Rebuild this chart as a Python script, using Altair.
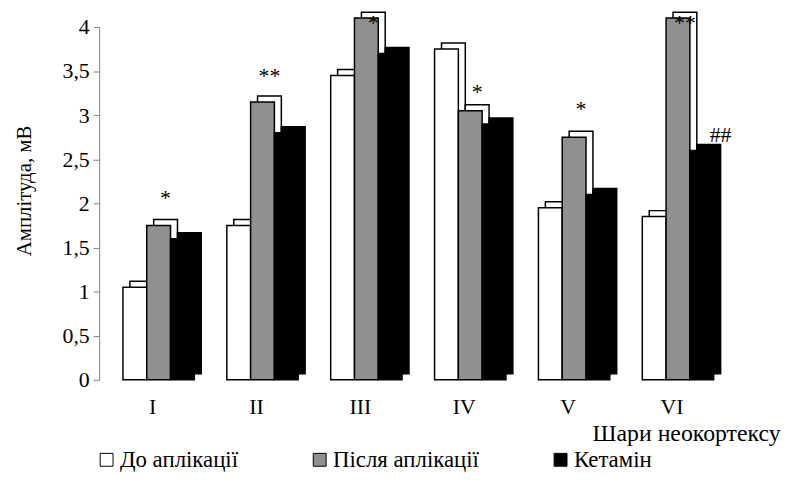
import altair as alt
import pandas as pd

# --- data ---
layers = ["I", "II", "III", "IV", "V", "VI"]
series = ["До аплікації", "Після аплікації", "Кетамін"]
before = [1.05, 1.75, 3.45, 3.75, 1.95, 1.85]
after = [1.75, 3.15, 4.1, 3.05, 2.75, 4.1]
ketamine = [1.6, 2.8, 3.7, 2.9, 2.1, 2.6]

# significance marks (text, layer, series, level in mV where the mark sits)
sig_text = ["*", "**", "*", "*", "*", "**", "##"]
sig_layer = ["I", "II", "III", "IV", "V", "VI", "VI"]
sig_series = ["Після аплікації"] * 6 + ["Кетамін"]
sig_level = [2.11, 3.49, 4.09, 3.31, 3.11, 4.09, 2.82]

rows = []
for s, vals in zip(series, [before, after, ketamine]):
    for l, v in zip(layers, vals):
        rows.append({"layer": l, "series": s, "value": v})
bars = pd.DataFrame(rows)
sig = pd.DataFrame({"layer": sig_layer, "series": sig_series,
                    "level": sig_level, "text": sig_text})

FONT = "Liberation Serif"

x_enc = alt.X(
    "layer:N",
    scale=alt.Scale(domain=layers, paddingInner=0.313, paddingOuter=0.21, align=0.545),
    axis=alt.Axis(
        title="Шари неокортексу", domain=False, ticks=False, labelAngle=0,
        labelOffset=-6, labelPadding=17, labelFont=FONT, labelFontSize=22,
        labelColor="black", titleFont=FONT, titleFontSize=24, titleFontWeight="normal",
        titleColor="black", titleX=687, titleY=61, titleAlign="right",
        titleBaseline="alphabetic", titleAnchor="end",
    ),
)
xo_front = alt.XOffset("series:N", scale=alt.Scale(domain=series, paddingInner=0, paddingOuter=0))
# depth copy: same bars, shifted right by the 3D depth
xo_back = alt.XOffset("series:N", scale=alt.Scale(domain=series, range=[7, 79], paddingInner=0, paddingOuter=0))

y_axis = alt.Axis(
    values=[0, 0.5, 1, 1.5, 2, 2.5, 3, 3.5, 4],
    labelExpr="replace(format(datum.value, '~g'), '.', ',')",
    grid=False, domainColor="#808080", tickColor="#808080", tickSize=6,
    labelFont=FONT, labelFontSize=22, labelColor="black", labelPadding=4,
    title="Амплітуда, мВ", titleFont=FONT, titleFontSize=21, titleFontWeight="normal",
    titleColor="black", titleX=-75, titleY=165, titleAngle=-90,
    titleAlign="center", titleBaseline="middle",
)
y_scale = alt.Scale(domain=[0, 4], nice=False)

back = alt.Chart(bars).mark_bar(
    yOffset=-6, y2Offset=-6, stroke="black", strokeWidth=1.5
).encode(
    x=x_enc, xOffset=xo_back,
    y=alt.Y("value:Q", scale=y_scale, axis=y_axis),
    fill=alt.condition(alt.datum.series == "Кетамін", alt.value("black"), alt.value("white")),
)

front = alt.Chart(bars).mark_bar(stroke="black", strokeWidth=1.5).encode(
    x=x_enc, xOffset=xo_front,
    y=alt.Y("value:Q", scale=y_scale, axis=y_axis),
    color=alt.Color(
        "series:N",
        scale=alt.Scale(domain=series, range=["white", "#909090", "black"]),
        legend=alt.Legend(
            title=None, orient="none", legendX=-4, legendY=425, direction="horizontal",
            symbolType="square", symbolSize=169, symbolStrokeColor="black",
            symbolStrokeWidth=1, labelFont=FONT, labelFontSize=23, labelColor="black",
            labelOffset=2, columnPadding=70, padding=0, labelLimit=400,
        ),
    ),
)

marks = alt.Chart(sig).mark_text(font=FONT, fontSize=22, dx=7, dy=4, color="black", baseline="middle").encode(
    x=x_enc, xOffset=xo_front,
    y=alt.Y("level:Q", scale=y_scale, axis=y_axis),
    text="text:N",
)

chart = alt.layer(back, front, marks).resolve_scale(xOffset="independent").properties(
    width=640, height=356,
    autosize=alt.AutoSizeParams(type="none"),
    padding={"left": 92, "top": 17, "right": 58, "bottom": 95},
).configure(font=FONT).configure_view(stroke=None).configure_axis(
    labelFont=FONT, titleFont=FONT
).configure_legend(labelFont=FONT)

chart.save("out.html", embed_options={"renderer": "svg", "actions": False})
